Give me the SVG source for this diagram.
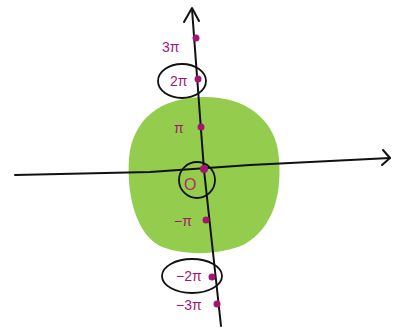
<svg xmlns="http://www.w3.org/2000/svg" width="404" height="332" viewBox="0 0 404 332">
<style>
.ax{fill:none;stroke:#111;stroke-width:2;stroke-linecap:round;stroke-linejoin:round}
.ring{fill:none;stroke:#111;stroke-width:1.8}
.dot{fill:#a3156f}
.lb{font-family:"Liberation Sans",Arial,sans-serif;font-size:14px;fill:#a3156f}
</style>
<rect width="404" height="332" fill="#fff"/>
<g id="disc"><path d="M130 150 C138 112 168 97 205 97 C245 97 272 118 278 150 C284 195 272 228 245 244 C220 256 180 256 158 245 C133 230 125 185 130 150 Z" fill="#94cc4d"/></g>
<g id="connectors">
<path class="ax" d="M221 326 L204 170 L192 9"/>
<path class="ax" d="M184 22 L192 8 L199 21"/>
<path class="ax" d="M15 175 L150 172 L250 165 L390 158"/>
<path class="ax" d="M383 150 L390 158 L382 165"/>
</g>
<g id="n3pi"><circle class="dot" cx="196" cy="38" r="3.5"/><text class="lb" x="162" y="52">3π</text></g>
<g id="n2pi"><ellipse class="ring" cx="182" cy="81" rx="24" ry="17"/><circle class="dot" cx="198" cy="79" r="3.5"/><text class="lb" x="170" y="86">2π</text></g>
<g id="npi"><circle class="dot" cx="201" cy="127" r="3.5"/><text class="lb" x="174" y="133">π</text></g>
<g id="n0"><circle class="ring" cx="197" cy="180" r="18"/><circle class="dot" cx="204" cy="169" r="4"/><text class="lb" x="184" y="190" style="font-size:16px;fill:#b0305a">O</text></g>
<g id="nmpi"><circle class="dot" cx="206" cy="220" r="3.5"/><text class="lb" x="174" y="226">−π</text></g>
<g id="nm2pi"><ellipse class="ring" cx="192" cy="276" rx="30" ry="17"/><circle class="dot" cx="212" cy="277" r="3.5"/><text class="lb" x="176" y="281">−2π</text></g>
<g id="nm3pi"><circle class="dot" cx="217" cy="304" r="3.5"/><text class="lb" x="176" y="310">−3π</text></g>
</svg>
